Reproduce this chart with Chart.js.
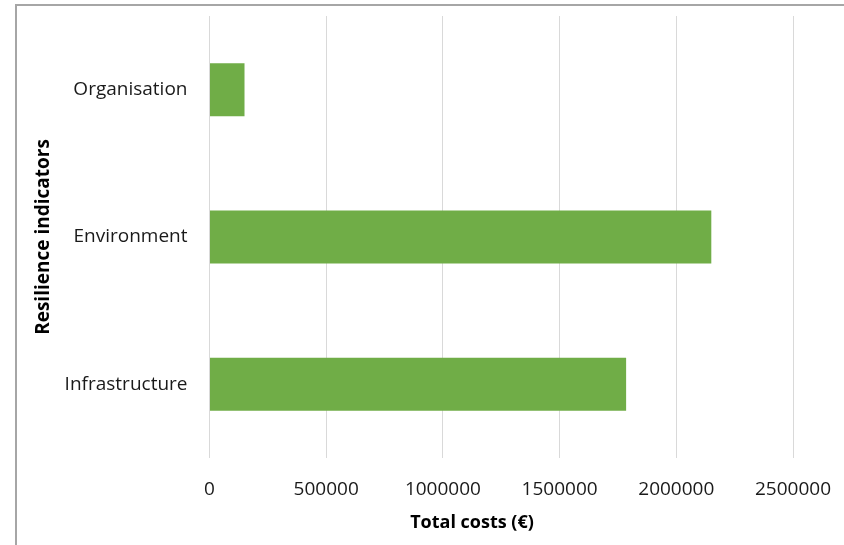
<!DOCTYPE html>
<html>
<head>
<meta charset="utf-8">
<script src="https://cdn.jsdelivr.net/npm/chart.js@4"></script>
<style>
  html, body { margin: 0; padding: 0; background: #fff; }
  #wrap { position: relative; width: 844px; height: 545px; }
  #frame { position: absolute; left: 15px; top: 4px; right: -2px; bottom: -2px;
           border-left: 2px solid #a6a6a6; border-top: 2px solid #a6a6a6; }
  canvas { position: absolute; left: 0; top: 0; }
</style>
</head>
<body>
<div id="wrap">
  <div id="frame"></div>
  <canvas id="chart-display" width="844" height="545"></canvas>
</div>
<script>
// data
var categories = ['Organisation', 'Environment', 'Infrastructure'];
var costs = [150000, 2150000, 1785000];
var xTicks = [0, 500000, 1000000, 1500000, 2000000, 2500000];
var xTitle = 'Total costs (€)';

var ctx = document.getElementById('chart-display');
var font = "'Open Sans', 'Liberation Sans', sans-serif";

// the x title in the original sits a bit left of the plot centre, so draw it by hand
var xTitlePlugin = {
    id: 'xTitle',
    afterDraw: function(chart) {
        var c = chart.ctx;
        c.save();
        c.font = 'bold 18px ' + font;
        c.fillStyle = '#000';
        c.textAlign = 'center';
        c.textBaseline = 'middle';
        c.fillText(xTitle, 472, 523);
        c.restore();
    }
};

function noPad(scale) {
    scale.paddingTop = 0;
    scale.paddingBottom = 0;
    scale.paddingLeft = 0;
    scale.paddingRight = 0;
}

new Chart(ctx, {
    type: 'bar',
    data: {
        labels: categories,
        datasets: [{
            label: 'Total costs',
            data: costs,
            backgroundColor: '#70ad47',
            borderWidth: 0,
            barPercentage: 0.36,
            categoryPercentage: 1
        }]
    },
    options: {
        indexAxis: 'y',
        responsive: false,
        animation: false,
        layout: { padding: { left: 28, right: 51, top: 16, bottom: 0 } },
        plugins: { legend: { display: false }, tooltip: { enabled: false } },
        scales: {
            x: {
                min: 0,
                max: 2500000,
                afterBuildTicks: function(scale) {
                    scale.ticks = xTicks.map(function(v){ return { value: v }; });
                },
                afterFit: function(scale) { scale.height = 87; noPad(scale); },
                grid: { color: '#d9d9d9', lineWidth: 1, drawTicks: false },
                border: { display: false },
                ticks: {
                    color: '#1a1a1a',
                    padding: 20,
                    maxRotation: 0,
                    font: { family: font, size: 19 },
                    callback: function(v) { return String(v); }
                }
            },
            y: {
                afterFit: function(scale) { scale.width = 181.5; noPad(scale); },
                grid: { display: false, drawTicks: false },
                border: { display: false },
                ticks: {
                    color: '#1a1a1a',
                    padding: 22,
                    font: { family: font, size: 19 }
                },
                title: {
                    display: true,
                    text: 'Resilience indicators',
                    color: '#000',
                    font: { family: font, size: 19, weight: 'bold' }
                }
            }
        }
    },
    plugins: [xTitlePlugin]
});
</script>
</body>
</html>
